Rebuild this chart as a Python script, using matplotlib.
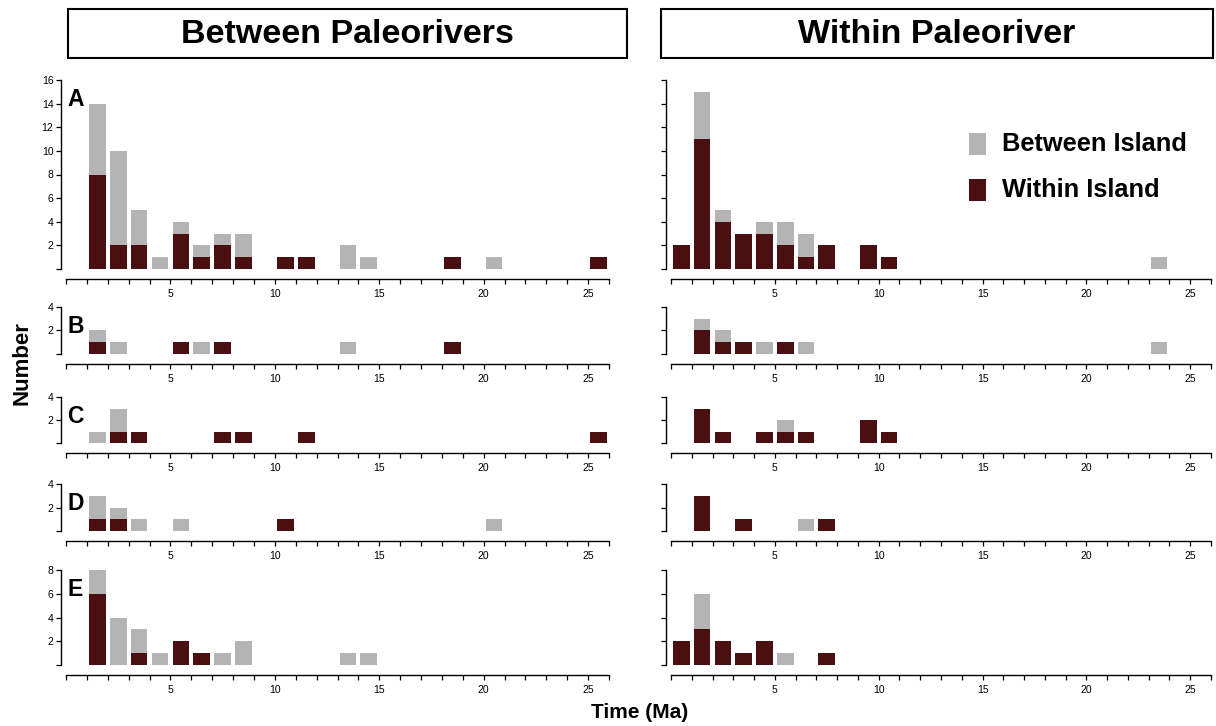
import matplotlib
matplotlib.use("Agg")
import matplotlib.pyplot as plt
from matplotlib.patches import Rectangle
from matplotlib import font_manager

# ---------------- data ----------------
bins = list(range(26))  # left edge of each 1-Ma bin

# Between Paleorivers (left column)
A_left_within  = [0,8,2,2,0,3,1,2,1,0,1,1,0,0,0,0,0,0,1,0,0,0,0,0,0,1]
A_left_between = [0,6,8,3,1,1,1,1,2,0,0,0,0,2,1,0,0,0,0,0,1,0,0,0,0,0]
B_left_within  = [0,1,0,0,0,1,0,1,0,0,0,0,0,0,0,0,0,0,1,0,0,0,0,0,0,0]
B_left_between = [0,1,1,0,0,0,1,0,0,0,0,0,0,1,0,0,0,0,0,0,0,0,0,0,0,0]
C_left_within  = [0,0,1,1,0,0,0,1,1,0,0,1,0,0,0,0,0,0,0,0,0,0,0,0,0,1]
C_left_between = [0,1,2,0,0,0,0,0,0,0,0,0,0,0,0,0,0,0,0,0,0,0,0,0,0,0]
D_left_within  = [0,1,1,0,0,0,0,0,0,0,1,0,0,0,0,0,0,0,0,0,0,0,0,0,0,0]
D_left_between = [0,2,1,1,0,1,0,0,0,0,0,0,0,0,0,0,0,0,0,0,1,0,0,0,0,0]
E_left_within  = [0,6,0,1,0,2,1,0,0,0,0,0,0,0,0,0,0,0,0,0,0,0,0,0,0,0]
E_left_between = [0,2,4,2,1,0,0,1,2,0,0,0,0,1,1,0,0,0,0,0,0,0,0,0,0,0]

# Within Paleoriver (right column)
A_right_within  = [2,11,4,3,3,2,1,2,0,2,1,0,0,0,0,0,0,0,0,0,0,0,0,0,0,0]
A_right_between = [0,4,1,0,1,2,2,0,0,0,0,0,0,0,0,0,0,0,0,0,0,0,0,1,0,0]
B_right_within  = [0,2,1,1,0,1,0,0,0,0,0,0,0,0,0,0,0,0,0,0,0,0,0,0,0,0]
B_right_between = [0,1,1,0,1,0,1,0,0,0,0,0,0,0,0,0,0,0,0,0,0,0,0,1,0,0]
C_right_within  = [0,3,1,0,1,1,1,0,0,2,1,0,0,0,0,0,0,0,0,0,0,0,0,0,0,0]
C_right_between = [0,0,0,0,0,1,0,0,0,0,0,0,0,0,0,0,0,0,0,0,0,0,0,0,0,0]
D_right_within  = [0,3,0,1,0,0,0,1,0,0,0,0,0,0,0,0,0,0,0,0,0,0,0,0,0,0]
D_right_between = [0,0,0,0,0,0,1,0,0,0,0,0,0,0,0,0,0,0,0,0,0,0,0,0,0,0]
E_right_within  = [2,3,2,1,2,0,0,1,0,0,0,0,0,0,0,0,0,0,0,0,0,0,0,0,0,0]
E_right_between = [0,3,0,0,0,1,0,0,0,0,0,0,0,0,0,0,0,0,0,0,0,0,0,0,0,0]

panel_letters = ["A", "B", "C", "D", "E"]
panel_ymax = [16, 4, 4, 4, 8]
column_titles = ["Between Paleorivers", "Within Paleoriver"]
legend_labels = ["Between Island", "Within Island"]
x_label = "Time (Ma)"
y_label = "Number"

left_data = [(A_left_within, A_left_between), (B_left_within, B_left_between),
             (C_left_within, C_left_between), (D_left_within, D_left_between),
             (E_left_within, E_left_between)]
right_data = [(A_right_within, A_right_between), (B_right_within, B_right_between),
              (C_right_within, C_right_between), (D_right_within, D_right_between),
              (E_right_within, E_right_between)]

# ---------------- style ----------------
GREY = "#b4b4b4"
MAROON = "#4a0f11"
names = {f.name for f in font_manager.fontManager.ttflist}
MAIN_FONT = "Liberation Sans" if "Liberation Sans" in names else "DejaVu Sans"
TICK_FONT = "Liberation Sans Narrow" if "Liberation Sans Narrow" in names else MAIN_FONT

W, H = 1216, 726
fig = plt.figure(figsize=(W / 100, H / 100), dpi=100)

def fx(x):
    return x / W

def fy(y):
    return 1 - y / H

# row geometry in pixels: (y of zero, y of top)
rows_px = [(269, 80), (354, 307), (443, 397), (531, 484), (665, 570)]
cols_px = [(66, 609), (671, 1211)]

axes_grid = []
for ci, (x0, x1) in enumerate(cols_px):
    col_axes = []
    data = left_data if ci == 0 else right_data
    for ri, (y0, y1) in enumerate(rows_px):
        ax = fig.add_axes([fx(x0), fy(y0), (x1 - x0) / W, (y0 - y1) / H])
        within, between = data[ri]
        centers = [b + 0.5 for b in bins]
        ax.bar(centers, within, width=0.8, color=MAROON, linewidth=0)
        ax.bar(centers, between, width=0.8, bottom=within, color=GREY, linewidth=0)
        ax.set_xlim(0, 26)
        ymax = panel_ymax[ri]
        ax.set_ylim(0, ymax)
        for s in ["top", "right"]:
            ax.spines[s].set_visible(False)
        ax.spines["left"].set_position(("outward", 3.6))
        ax.spines["bottom"].set_position(("outward", 7.2))
        for s in ["left", "bottom"]:
            ax.spines[s].set_linewidth(1.0)
        xt = list(range(0, 27))
        ax.set_xticks(xt)
        ax.set_xticklabels([str(t) if t % 5 == 0 and t > 0 else "" for t in xt],
                           fontfamily=TICK_FONT, fontsize=7.5)
        yt = list(range(0, ymax + 1, 2))
        ax.set_yticks(yt)
        if ci == 0:
            ax.set_yticklabels([str(t) if t > 0 else "" for t in yt],
                               fontfamily=TICK_FONT, fontsize=7.5)
        else:
            ax.set_yticklabels([""] * len(yt))
        ax.tick_params(axis="both", direction="out", length=3.5, width=0.9, pad=2)
        ax.tick_params(axis="x", pad=4)
        if ci == 0:
            ax.annotate(panel_letters[ri], xy=(0, 1), xycoords="axes fraction",
                        xytext=(1, -6), textcoords="offset points",
                        ha="left", va="top", fontsize=16.5, fontweight="bold",
                        fontfamily=MAIN_FONT)
        col_axes.append(ax)
    axes_grid.append(col_axes)

# column header boxes
boxes_px = [(68, 9, 627, 58), (661, 9, 1213, 58)]
for (bx0, by0, bx1, by1), title in zip(boxes_px, column_titles):
    fig.patches.append(Rectangle((fx(bx0), fy(by1)), (bx1 - bx0) / W, (by1 - by0) / H,
                                 transform=fig.transFigure, fill=False,
                                 edgecolor="black", linewidth=1.5))
    fig.text(fx((bx0 + bx1) / 2), fy((by0 + by1) / 2 + 1), title, ha="center", va="center",
             fontsize=24.5, fontweight="bold", fontfamily=MAIN_FONT)

# legend
leg_items = [(133, 155, GREY, legend_labels[0]), (179, 201, MAROON, legend_labels[1])]
for (ly0, ly1, col, lab) in leg_items:
    fig.patches.append(Rectangle((fx(969), fy(ly1)), 17 / W, (ly1 - ly0) / H,
                                 transform=fig.transFigure, facecolor=col, edgecolor="none"))
    fig.text(fx(1002), fy((ly0 + ly1) / 2), lab, ha="left", va="center",
             fontsize=18.3, fontweight="bold", fontfamily=MAIN_FONT)

# axis labels
fig.text(fx(640), fy(712), x_label, ha="center", va="center",
         fontsize=15, fontweight="bold", fontfamily=MAIN_FONT)
fig.text(fx(22), fy(363), y_label, ha="center", va="center", rotation=90,
         fontsize=16, fontweight="bold", fontfamily=MAIN_FONT)

fig.savefig("out.png", dpi=100)
